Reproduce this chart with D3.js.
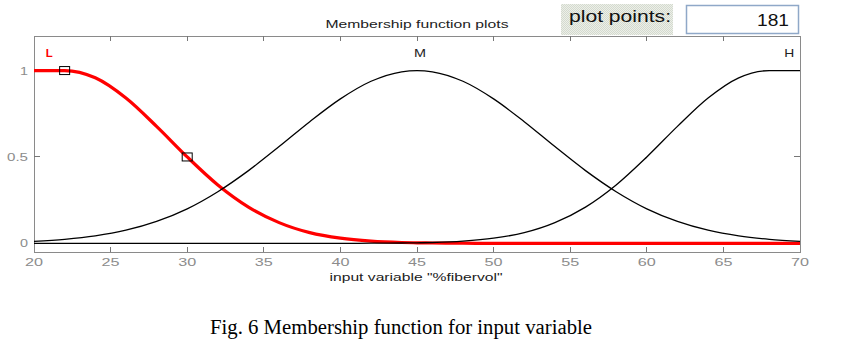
<!DOCTYPE html>
<html>
<head>
<meta charset="utf-8">
<script src="https://cdn.jsdelivr.net/npm/d3@7"></script>
<style>
  html, body { margin: 0; padding: 0; background: #fff; }
  svg { display: block; }
</style>
</head>
<body>
<svg id="chart" width="862" height="363"></svg>
<script>
// ---- data ----
const xValues = [20,22,24,26,28,30,32,34,36,38,40,42,44,45,46,48,50,52,54,56,58,60,62,64,66,68,70];
const lowValues  = [1,1,0.958,0.841,0.677,0.5,0.338,0.21,0.12,0.062,0.03,0.013,0.005,0.003,0.002,0.001,0,0,0,0,0,0,0,0,0,0,0];
const midValues  = [0.011,0.023,0.043,0.076,0.127,0.2,0.299,0.421,0.56,0.704,0.836,0.938,0.993,1,0.993,0.938,0.836,0.704,0.56,0.421,0.299,0.2,0.127,0.076,0.043,0.023,0.011];
const highValues = [0,0,0,0,0,0,0,0,0,0,0,0.001,0.002,0.003,0.005,0.013,0.03,0.062,0.12,0.21,0.338,0.5,0.677,0.841,0.958,1,1];
const seriesNames = ["L", "M", "H"];
const labelX = [21, 45.2, 69.3];
const markerX = [22, 30];
const markerY = [1, 0.5];
const xTicks = [20,25,30,35,40,45,50,55,60,65,70];
const yTicks = [0, 0.5, 1];
const titleText = "Membership function plots";
const xAxisTitle = 'input variable "%fibervol"';
const plotPointsLabel = "plot points:";
const plotPointsValue = "181";
const caption = "Fig. 6 Membership function for input variable";

// ---- layout ----
const svg = d3.select("#chart");
const L = 34, R = 800, T = 36, B = 252;
const x = d3.scaleLinear().domain([20, 70]).range([L, R]);
const y = d3.scaleLinear().domain([-0.05, 1.2]).range([B, T]);
const sans = "Liberation Sans, Arial, Helvetica, sans-serif";

// frame
svg.append("rect").attr("x", L).attr("y", T).attr("width", R - L).attr("height", B - T)
  .attr("fill", "#fff").attr("stroke", "#8a8a8a").attr("stroke-width", 1).attr("shape-rendering", "crispEdges");

// ticks (inside) bottom/top
const tickLen = 5;
const g = svg.append("g").attr("shape-rendering", "crispEdges");
xTicks.slice(1, -1).forEach(v => {
  g.append("line").attr("x1", x(v)).attr("x2", x(v)).attr("y1", B).attr("y2", B - tickLen).attr("stroke", "#777");
  g.append("line").attr("x1", x(v)).attr("x2", x(v)).attr("y1", T).attr("y2", T + tickLen).attr("stroke", "#777");
});
yTicks.forEach(v => {
  g.append("line").attr("x1", L).attr("x2", L + 6).attr("y1", y(v)).attr("y2", y(v)).attr("stroke", "#777");
  g.append("line").attr("x1", R).attr("x2", R - 6).attr("y1", y(v)).attr("y2", y(v)).attr("stroke", "#777");
});

// tick labels (the original is horizontally stretched)
svg.selectAll(".xt").data(xTicks).enter().append("text")
  .attr("x", d => x(d)).attr("y", 266).attr("text-anchor", "middle")
  .attr("font-family", sans).attr("font-size", 11).attr("fill", "#8c8c8c")
  .attr("textLength", 18).attr("lengthAdjust", "spacingAndGlyphs").text(d => d);
svg.selectAll(".yt").data(yTicks).enter().append("text")
  .attr("x", 28).attr("y", d => y(d) + 4).attr("text-anchor", "end")
  .attr("font-family", sans).attr("font-size", 11).attr("fill", "#8c8c8c")
  .attr("textLength", d => String(d).length > 1 ? 21 : 8).attr("lengthAdjust", "spacingAndGlyphs").text(d => d);

// axis title and plot title
svg.append("text").attr("x", 416).attr("y", 281).attr("text-anchor", "middle")
  .attr("font-family", sans).attr("font-size", 11).attr("fill", "#222")
  .attr("textLength", 173).attr("lengthAdjust", "spacingAndGlyphs").text(xAxisTitle);
svg.append("text").attr("x", 417).attr("y", 28).attr("text-anchor", "middle")
  .attr("font-family", sans).attr("font-size", 11).attr("fill", "#222")
  .attr("textLength", 183).attr("lengthAdjust", "spacingAndGlyphs").text(titleText);

// plot points panel
const pat = svg.append("defs").append("pattern").attr("id", "dither")
  .attr("width", 2).attr("height", 2).attr("patternUnits", "userSpaceOnUse");
pat.append("rect").attr("width", 2).attr("height", 2).attr("fill", "#ecefe8");
pat.append("rect").attr("width", 1).attr("height", 1).attr("fill", "#d4dacf");
pat.append("rect").attr("x", 1).attr("y", 1).attr("width", 1).attr("height", 1).attr("fill", "#d4dacf");
svg.append("rect").attr("x", 561).attr("y", 4).attr("width", 112).attr("height", 31).attr("fill", "url(#dither)");
svg.append("text").attr("x", 569).attr("y", 22).attr("font-family", sans).attr("font-size", 16)
  .attr("fill", "#111").attr("textLength", 102).attr("lengthAdjust", "spacingAndGlyphs").text(plotPointsLabel);
svg.append("rect").attr("x", 686.5).attr("y", 5.5).attr("width", 112).attr("height", 28)
  .attr("fill", "#fff").attr("stroke", "#8fa8c8").attr("stroke-width", 1.5);
svg.append("text").attr("x", 789).attr("y", 26).attr("text-anchor", "end").attr("font-family", sans)
  .attr("font-size", 17).attr("fill", "#111").attr("textLength", 32).attr("lengthAdjust", "spacingAndGlyphs")
  .text(plotPointsValue);

// curves
const line = d3.line().x((d, i) => x(xValues[i])).y(d => y(d)).curve(d3.curveMonotoneX);
const plot = svg.append("g");
plot.append("path").datum(lowValues).attr("d", line).attr("fill", "none")
  .attr("stroke", "#ff0000").attr("stroke-width", 3.2);
plot.append("path").datum(midValues).attr("d", line).attr("fill", "none")
  .attr("stroke", "#000").attr("stroke-width", 1.3);
plot.append("path").datum(highValues).attr("d", line).attr("fill", "none")
  .attr("stroke", "#000").attr("stroke-width", 1.3);

// markers on selected MF
markerX.forEach((mx, i) => {
  plot.append("rect").attr("x", x(mx) - 5).attr("y", y(markerY[i]) - 4)
    .attr("width", 10).attr("height", 8).attr("fill", "none").attr("stroke", "#000").attr("stroke-width", 1);
});

// series labels
seriesNames.forEach((n, i) => {
  svg.append("text").attr("x", x(labelX[i])).attr("y", 57).attr("text-anchor", "middle")
    .attr("font-family", sans).attr("font-size", 11).attr("font-weight", i === 0 ? "bold" : "normal")
    .attr("fill", i === 0 ? "#ff0000" : "#222")
    .attr("textLength", i === 0 ? 7 : (i === 1 ? 12 : 10)).attr("lengthAdjust", "spacingAndGlyphs").text(n);
});

// caption
svg.append("text").attr("x", 401).attr("y", 334).attr("text-anchor", "middle")
  .attr("font-family", "Liberation Serif, Times New Roman, serif").attr("font-size", 20)
  .attr("fill", "#000").attr("textLength", 382).attr("lengthAdjust", "spacingAndGlyphs").text(caption);
</script>
</body>
</html>
